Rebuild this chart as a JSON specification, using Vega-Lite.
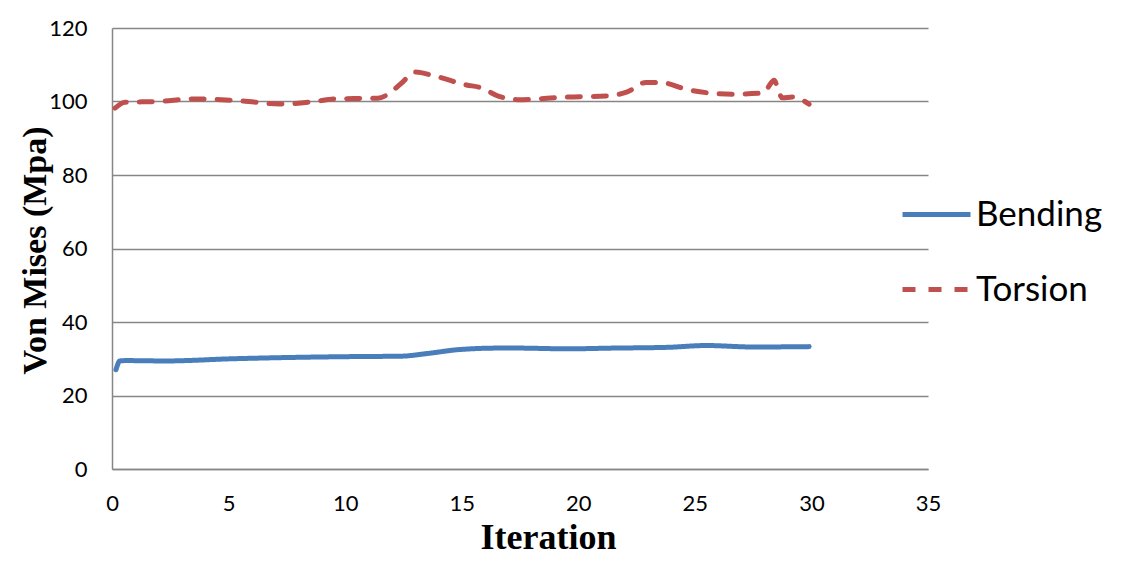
{
  "$schema": "https://vega.github.io/schema/vega-lite/v6.json",
  "width": 816,
  "height": 441,
  "autosize": {"type": "none"},
  "padding": {"left": 112, "top": 28, "right": 205, "bottom": 107},
  "background": "white",
  "data": {
    "values": [
      {"series": "Bending", "iteration": 0.17, "stress": 27.0},
      {"series": "Bending", "iteration": 0.34, "stress": 29.4},
      {"series": "Bending", "iteration": 0.6, "stress": 29.5},
      {"series": "Bending", "iteration": 2.3, "stress": 29.4},
      {"series": "Bending", "iteration": 5.2, "stress": 30.0},
      {"series": "Bending", "iteration": 8.1, "stress": 30.4},
      {"series": "Bending", "iteration": 10.5, "stress": 30.6},
      {"series": "Bending", "iteration": 12.4, "stress": 30.7},
      {"series": "Bending", "iteration": 13.5, "stress": 31.4},
      {"series": "Bending", "iteration": 14.9, "stress": 32.5},
      {"series": "Bending", "iteration": 16.6, "stress": 32.9},
      {"series": "Bending", "iteration": 17.4, "stress": 32.9},
      {"series": "Bending", "iteration": 19.5, "stress": 32.7},
      {"series": "Bending", "iteration": 21.5, "stress": 32.9},
      {"series": "Bending", "iteration": 23.8, "stress": 33.1},
      {"series": "Bending", "iteration": 25.5, "stress": 33.6},
      {"series": "Bending", "iteration": 27.5, "stress": 33.2},
      {"series": "Bending", "iteration": 29.9, "stress": 33.3},
      {"series": "Torsion", "iteration": 0.13, "stress": 98.2},
      {"series": "Torsion", "iteration": 0.56, "stress": 99.8},
      {"series": "Torsion", "iteration": 2.0, "stress": 100.0},
      {"series": "Torsion", "iteration": 3.5, "stress": 100.7},
      {"series": "Torsion", "iteration": 5.5, "stress": 100.2},
      {"series": "Torsion", "iteration": 7.2, "stress": 99.3},
      {"series": "Torsion", "iteration": 8.8, "stress": 100.1},
      {"series": "Torsion", "iteration": 9.5, "stress": 100.7},
      {"series": "Torsion", "iteration": 11.4, "stress": 100.9},
      {"series": "Torsion", "iteration": 11.8, "stress": 101.8},
      {"series": "Torsion", "iteration": 12.4, "stress": 104.9},
      {"series": "Torsion", "iteration": 13.0, "stress": 108.0},
      {"series": "Torsion", "iteration": 13.8, "stress": 107.0},
      {"series": "Torsion", "iteration": 15.2, "stress": 104.5},
      {"series": "Torsion", "iteration": 15.8, "stress": 103.8},
      {"series": "Torsion", "iteration": 16.6, "stress": 101.4},
      {"series": "Torsion", "iteration": 17.4, "stress": 100.5},
      {"series": "Torsion", "iteration": 19.5, "stress": 101.2},
      {"series": "Torsion", "iteration": 21.2, "stress": 101.5},
      {"series": "Torsion", "iteration": 22.1, "stress": 102.6},
      {"series": "Torsion", "iteration": 22.9, "stress": 105.2},
      {"series": "Torsion", "iteration": 23.5, "stress": 105.2},
      {"series": "Torsion", "iteration": 24.7, "stress": 103.2},
      {"series": "Torsion", "iteration": 26.6, "stress": 102.0},
      {"series": "Torsion", "iteration": 27.9, "stress": 102.3},
      {"series": "Torsion", "iteration": 28.1, "stress": 103.5},
      {"series": "Torsion", "iteration": 28.4, "stress": 105.8},
      {"series": "Torsion", "iteration": 28.6, "stress": 102.6},
      {"series": "Torsion", "iteration": 28.75, "stress": 101.0},
      {"series": "Torsion", "iteration": 29.2, "stress": 101.2},
      {"series": "Torsion", "iteration": 29.9, "stress": 99.3}
    ]
  },
  "mark": {"type": "line", "strokeWidth": 5, "strokeCap": "round", "strokeJoin": "round", "interpolate": "monotone"},
  "encoding": {
    "x": {
      "field": "iteration",
      "type": "quantitative",
      "scale": {"domain": [0, 35], "nice": false},
      "axis": {
        "title": "Iteration",
        "values": [0, 5, 10, 15, 20, 25, 30, 35],
        "grid": false,
        "ticks": false,
        "domain": true,
        "domainColor": "#868686",
        "domainWidth": 1.5,
        "labelFlush": false,
        "labelFont": "Lato",
        "labelFontSize": 22,
        "labelColor": "#000000",
        "labelPadding": 24,
        "titleFont": "Liberation Serif",
        "titleFontSize": 36,
        "titleFontWeight": "bold",
        "titleColor": "#000000",
        "titleX": 436,
        "titleY": 79,
        "titleBaseline": "alphabetic",
        "titleAlign": "center"
      }
    },
    "y": {
      "field": "stress",
      "type": "quantitative",
      "scale": {"domain": [0, 120], "nice": false},
      "axis": {
        "title": "Von Mises (Mpa)",
        "values": [0, 20, 40, 60, 80, 100, 120],
        "grid": true,
        "gridColor": "#868686",
        "gridWidth": 1.5,
        "gridOpacity": 1,
        "ticks": false,
        "domain": true,
        "domainColor": "#868686",
        "domainWidth": 1.5,
        "labelFlush": false,
        "labelFont": "Lato",
        "labelFontSize": 22,
        "labelColor": "#000000",
        "labelPadding": 25,
        "titleFont": "Liberation Serif",
        "titleFontSize": 34,
        "titleFontWeight": "bold",
        "titleColor": "#000000",
        "titleAngle": -90,
        "titleX": -67,
        "titleY": 222,
        "titleBaseline": "alphabetic",
        "titleAlign": "center"
      }
    },
    "color": {
      "field": "series",
      "type": "nominal",
      "scale": {"domain": ["Bending", "Torsion"], "range": ["#4A7EBB", "#C0504D"]},
      "legend": {
        "title": null,
        "orient": "none",
        "legendX": 788,
        "legendY": 150,
        "symbolType": "stroke",
        "symbolSize": 4624,
        "symbolStrokeWidth": 5,
        "labelFont": "Lato",
        "labelFontSize": 35,
        "labelColor": "#000000",
        "labelOffset": 3,
        "rowPadding": 20
      }
    },
    "strokeDash": {
      "field": "series",
      "type": "nominal",
      "scale": {"domain": ["Bending", "Torsion"], "range": [[1, 0], [13, 13]]},
      "legend": null
    }
  },
  "config": {"view": {"stroke": null}}
}
